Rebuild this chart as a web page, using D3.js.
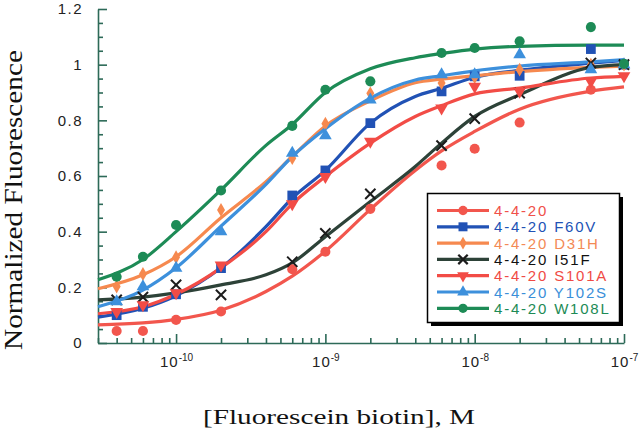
<!DOCTYPE html>
<html>
<head>
<meta charset="utf-8">
<script src="https://cdn.jsdelivr.net/npm/d3@7"></script>
<style>
  body { margin: 0; background: #fff; }
  svg { display: block; }
</style>
</head>
<body>
<svg id="chart" width="640" height="431"></svg>
<script>
// fluorescein biotin concentrations (M) of the measured points
const conc = [4e-11, 6e-11, 1e-10, 2e-10, 6e-10, 1e-9, 2e-9, 6e-9, 1e-8, 2e-8, 6e-8, 1e-7];

// measured normalized fluorescence
const wt    = [0.043, 0.043, 0.083, 0.113, 0.265, 0.328, 0.482, 0.638, 0.698, 0.792, 0.91, 1.0];
const f60v  = [0.10, 0.13, 0.175, 0.269, 0.53, 0.62, 0.79, 0.904, 0.958, 0.96, 1.056, 1.0];
const d31h  = [0.203, 0.248, 0.308, 0.478, 0.664, 0.788, 0.897, 0.934, 0.955, 0.982, 1.0, 1.0];
const i51f  = [0.155, 0.165, 0.209, 0.173, 0.292, 0.394, 0.536, 0.709, 0.806, 0.898, 1.006, 1.0];
const s101a = [0.113, 0.137, 0.18, 0.28, 0.50, 0.598, 0.724, 0.844, 0.922, 0.904, 0.94, 0.96];
const y102s = [0.149, 0.203, 0.269, 0.40, 0.682, 0.745, 0.874, 0.964, 0.964, 1.036, 0.982, 1.0];
const w108l = [0.238, 0.31, 0.424, 0.548, 0.78, 0.91, 0.94, 1.042, 1.06, 1.084, 1.135, 1.003];

// fitted curves at these concentrations
const fitX      = [3e-11, 6e-11, 1e-10, 2e-10, 4e-10, 6e-10, 1e-9, 2e-9, 4e-9, 6e-9, 1e-8, 2e-8, 6e-8, 1e-7];
const wtFit     = [0.065, 0.072, 0.085, 0.118, 0.185, 0.24, 0.33, 0.48, 0.62, 0.69, 0.76, 0.84, 0.905, 0.92];
const f60vFit   = [0.093, 0.125, 0.17, 0.27, 0.418, 0.52, 0.62, 0.79, 0.886, 0.915, 0.955, 0.98, 1.005, 1.015];
const d31hFit   = [0.195, 0.245, 0.31, 0.45, 0.58, 0.67, 0.78, 0.87, 0.935, 0.948, 0.96, 0.975, 0.99, 0.995];
const i51fFit   = [0.155, 0.165, 0.18, 0.209, 0.245, 0.288, 0.382, 0.508, 0.634, 0.718, 0.814, 0.892, 0.99, 1.0];
const s101aFit  = [0.105, 0.13, 0.175, 0.27, 0.40, 0.50, 0.598, 0.718, 0.814, 0.853, 0.895, 0.916, 0.952, 0.958];
const y102sFit  = [0.13, 0.19, 0.27, 0.42, 0.57, 0.67, 0.77, 0.88, 0.945, 0.96, 0.978, 0.995, 1.01, 1.018];
const w108lFit  = [0.227, 0.30, 0.40, 0.55, 0.71, 0.785, 0.9, 0.985, 1.025, 1.04, 1.056, 1.066, 1.07, 1.07];

const names = ["4-4-20", "4-4-20 F60V", "4-4-20 D31H", "4-4-20 I51F", "4-4-20 S101A", "4-4-20 Y102S", "4-4-20 W108L"];
const yTicks = [0, 0.2, 0.4, 0.6, 0.8, 1, 1.2];
const xTicks = [1e-10, 1e-9, 1e-8, 1e-7];
const xTickExp = ["-10", "-9", "-8", "-7"];

const points = [wt, f60v, d31h, i51f, s101a, y102s, w108l];
const fits = [wtFit, f60vFit, d31hFit, i51fFit, s101aFit, y102sFit, w108lFit];

const lineColor = ["#f2564d", "#2152b5", "#f6894f", "#2d4238", "#f24c46", "#3d90dc", "#1d8b56"];
const markColor = ["#f2564d", "#2152b5", "#f6894f", "#1c1c1c", "#f24c46", "#3d90dc", "#1d8b56"];
const textColor = ["#f0504a", "#2152b5", "#f38a55", "#111111", "#f04a45", "#3a8fd9", "#1d8b56"];
const shapes = ["circle", "square", "diamond", "times", "down", "up", "circle"];

const svg = d3.select("#chart");
const axisColor = "#2d6a58";

const x = d3.scaleLog().domain([3e-11, 1e-7]).range([98, 624]);
const y = d3.scaleLinear().domain([0, 1.2]).range([343, 9]);

function symbolPath(shape, k) {
  let type = d3.symbolCircle, size = 80;
  if (shape == "square") { type = d3.symbolSquare; size = 95; }
  if (shape == "diamond") { type = d3.symbolDiamond; size = 55; }
  if (shape == "times") { type = d3.symbolTimes; size = 70; }
  if (shape == "down" || shape == "up") { type = d3.symbolTriangle; size = 70; }
  return d3.symbol().type(type).size(size * k)();
}

// y axis: majors with labels, minors every 0.05
const yMinor = d3.range(0, 1.2001, 0.05).filter(v => !yTicks.some(t => Math.abs(t - v) < 1e-6));
svg.append("g")
  .attr("transform", "translate(98,0)")
  .call(d3.axisLeft(y).tickValues(yMinor).tickSize(-5).tickSizeOuter(0).tickFormat(""))
  .call(g => g.select(".domain").remove());
const yAxis = svg.append("g")
  .attr("transform", "translate(98,0)")
  .call(d3.axisLeft(y).tickValues(yTicks).tickSize(-9).tickSizeOuter(0).tickPadding(15)
    .tickFormat(d => d == 0 ? "0" : d == 1 ? "1" : d.toFixed(1)));
yAxis.selectAll("text")
  .style("font-family", "Liberation Sans, Arial, sans-serif")
  .style("font-size", "15px")
  .style("letter-spacing", "1.5px")
  .attr("fill", "#222");

// x axis: decades with labels, minor ticks 2..9
const xMinor = [];
[1e-11, 1e-10, 1e-9, 1e-8].forEach(dec => {
  for (let m = 2; m <= 9; m++) {
    const v = dec * m;
    if (v >= 3e-11 && v < 1e-7) xMinor.push(v);
  }
});
svg.append("g")
  .attr("transform", "translate(0,343)")
  .call(d3.axisBottom(x).tickValues(xMinor).tickSize(-5).tickSizeOuter(0).tickFormat(""))
  .call(g => g.select(".domain").remove());
const xAxis = svg.append("g")
  .attr("transform", "translate(0,343)")
  .call(d3.axisBottom(x).tickValues(xTicks).tickSize(-9).tickSizeOuter(0).tickPadding(14).tickFormat(""));
xAxis.selectAll(".tick text").each(function (d, i) {
  const t = d3.select(this)
    .style("font-family", "Liberation Sans, Arial, sans-serif")
    .style("font-size", "15px")
    .attr("fill", "#222")
    .attr("dy", null)
    .attr("y", 24);
  t.append("tspan").text("10").style("letter-spacing", "1px");
  t.append("tspan").text(xTickExp[i]).attr("dy", -6).style("font-size", "10px");
});

svg.selectAll(".domain, .tick line")
  .attr("stroke", axisColor)
  .attr("stroke-width", 1.6);

// fitted curves
const line = d3.line()
  .x(d => x(d[0]))
  .y(d => y(d[1]))
  .curve(d3.curveMonotoneX);

svg.append("g")
  .selectAll("path")
  .data(fits)
  .enter()
  .append("path")
  .attr("d", f => line(f.map((v, j) => [fitX[j], v])))
  .attr("fill", "none")
  .attr("stroke", (f, i) => lineColor[i])
  .attr("stroke-width", 3.2)
  .attr("stroke-linejoin", "round");

// measured points
points.forEach((vals, i) => {
  svg.append("g")
    .selectAll("path")
    .data(vals)
    .enter()
    .append("path")
    .attr("d", symbolPath(shapes[i], 1))
    .attr("transform", (v, j) => "translate(" + x(conc[j]) + "," + y(v) + ")" + (shapes[i] == "down" ? " rotate(180)" : ""))
    .attr("fill", shapes[i] == "times" ? "none" : markColor[i])
    .attr("stroke", shapes[i] == "times" ? markColor[i] : "none")
    .attr("stroke-width", 2);
});

// legend
const lg = svg.append("g");
lg.append("rect")
  .attr("x", 431).attr("y", 197).attr("width", 192).attr("height", 129)
  .attr("fill", "#000");
lg.append("rect")
  .attr("x", 427.5).attr("y", 193.5).attr("width", 192).attr("height", 129)
  .attr("fill", "#fff").attr("stroke", "#000").attr("stroke-width", 1.5);

names.forEach((name, i) => {
  const ry = 210.5 + i * 16.3;
  lg.append("line")
    .attr("x1", 437).attr("x2", 489).attr("y1", ry).attr("y2", ry)
    .attr("stroke", lineColor[i]).attr("stroke-width", 3.2);
  lg.append("path")
    .attr("d", symbolPath(shapes[i], 0.85))
    .attr("transform", "translate(463," + ry + ")" + (shapes[i] == "down" ? " rotate(180)" : ""))
    .attr("fill", shapes[i] == "times" ? "none" : markColor[i])
    .attr("stroke", shapes[i] == "times" ? markColor[i] : "none")
    .attr("stroke-width", 2.2);
  lg.append("text")
    .attr("x", 494).attr("y", ry + 5.5)
    .style("font-family", "Liberation Sans, Arial, sans-serif")
    .style("font-size", "15px")
    .style("letter-spacing", "1.8px")
    .attr("fill", textColor[i])
    .text(name);
});

// axis titles
svg.append("text")
  .attr("x", 203).attr("y", 424)
  .attr("textLength", 272).attr("lengthAdjust", "spacingAndGlyphs")
  .style("font-family", "Liberation Serif, Times New Roman, serif")
  .style("font-size", "22px")
  .attr("fill", "#111")
  .text("[Fluorescein biotin], M");

svg.append("text")
  .attr("transform", "translate(22,200) rotate(-90)")
  .attr("text-anchor", "middle")
  .attr("textLength", 300).attr("lengthAdjust", "spacingAndGlyphs")
  .style("font-family", "Liberation Serif, Times New Roman, serif")
  .style("font-size", "26px")
  .attr("fill", "#111")
  .text("Normalized Fluorescence");
</script>
</body>
</html>
